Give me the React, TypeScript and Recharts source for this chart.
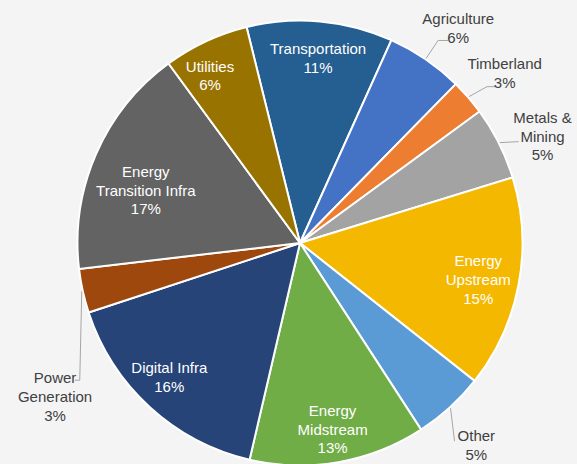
import React from "react";
import { PieChart, Pie, Cell } from "recharts";

const categories = [
  "Transportation",
  "Agriculture",
  "Timberland",
  "Metals &\nMining",
  "Energy\nUpstream",
  "Other",
  "Energy\nMidstream",
  "Digital Infra",
  "Power\nGeneration",
  "Energy\nTransition Infra",
  "Utilities",
];
const shares = [10.6, 5.6, 2.6, 5.3, 15.4, 5.2, 12.8, 16.3, 3.2, 16.8, 6.2];

const COLORS = [
  "#255E91",
  "#4472C4",
  "#ED7D31",
  "#A3A3A3",
  "#F5B800",
  "#5B9BD5",
  "#70AD47",
  "#264478",
  "#9E480E",
  "#636363",
  "#997300",
];

const data = categories.map((name, i) => ({ name, value: shares[i] }));

// label placement: radius (px), clockwise angle offset (deg), inside flag, leader offsets
const PLACE: Record<string, { r: number; d: number; inside: boolean; leader?: number[][] }> = {
  Transportation: { r: 186, d: 0.4, inside: true },
  Agriculture: { r: 267, d: 2, inside: false, leader: [[12, -18], [22, -18]] },
  Timberland: { r: 266, d: 1.2, inside: false, leader: [[18, -10], [26, -10]] },
  "Metals &\nMining": { r: 265, d: 2.9, inside: false, leader: [[19, -1]] },
  "Energy\nUpstream": { r: 182, d: 1, inside: true },
  Other: { r: 268, d: 1.2, inside: false, leader: [[4, 33]] },
  "Energy\nMidstream": { r: 189, d: 0, inside: true },
  "Digital Infra": { r: 187, d: 1.9, inside: true },
  "Power\nGeneration": { r: 289, d: -19.6, inside: false, leader: [[-2, 89], [-7, 89]] },
  "Energy\nTransition Infra": { r: 163, d: -4.6, inside: true },
  Utilities: { r: 190, d: -3.2, inside: true },
};

const FONT = "'Liberation Sans', Arial, sans-serif";
const RAD = Math.PI / 180;

const renderLabel = (props: any) => {
  const { cx, cy, midAngle, outerRadius, name, percent } = props;
  const p = PLACE[name];
  if (!p) return null;
  const a = midAngle - p.d;
  const x = cx + p.r * Math.cos(a * RAD);
  const y = cy - p.r * Math.sin(a * RAD);
  const lines = [...String(name).split("\n"), `${Math.round(percent * 100)}%`];
  const step = 18.7;
  const y0 = y - ((lines.length - 1) * step) / 2;
  let leader = null;
  if (p.leader) {
    const ex = cx + (outerRadius + 1) * Math.cos(midAngle * RAD);
    const ey = cy - (outerRadius + 1) * Math.sin(midAngle * RAD);
    const pts = [[ex, ey], ...p.leader.map(([dx, dy]) => [ex + dx, ey + dy])];
    leader = (
      <polyline
        points={pts.map((q) => q.join(",")).join(" ")}
        fill="none"
        stroke="#A6A6A6"
        strokeWidth={1}
      />
    );
  }
  return (
    <g key={`lbl-${name}`}>
      {leader}
      {lines.map((t, i) => (
        <text
          key={i}
          x={x}
          y={y0 + i * step}
          textAnchor="middle"
          dominantBaseline="central"
          fontSize={15}
          fontFamily={FONT}
          fill={p.inside ? "#FFFFFF" : "#404040"}
        >
          {t}
        </text>
      ))}
    </g>
  );
};

export default function App() {
  return (
    <div
      style={{
        position: "fixed",
        left: 0,
        top: 0,
        width: 577,
        height: 464,
        background: "#F4F4F4",
        overflow: "hidden",
      }}
    >
      <PieChart width={577} height={464} margin={{ top: 0, right: 0, bottom: 0, left: 0 }}>
        <Pie
          data={data}
          dataKey="value"
          nameKey="name"
          cx={300}
          cy={243}
          outerRadius={222.5}
          startAngle={103.9}
          endAngle={-256.1}
          stroke="#FFFFFF"
          strokeWidth={2}
          label={renderLabel}
          labelLine={false}
          isAnimationActive={false}
        >
          {data.map((d, i) => (
            <Cell key={d.name} fill={COLORS[i]} />
          ))}
        </Pie>
      </PieChart>
    </div>
  );
}
